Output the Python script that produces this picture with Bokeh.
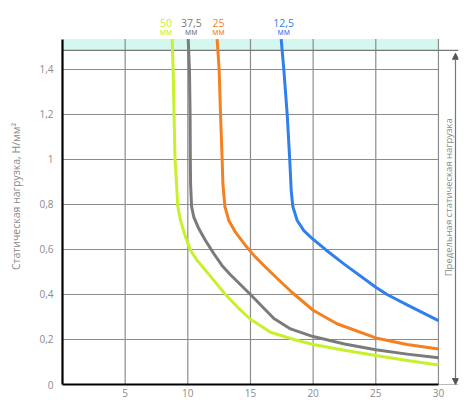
import math
from bokeh.plotting import figure
from bokeh.models import FixedTicker, Label, Arrow, NormalHead
from bokeh.embed import file_html
from bokeh.resources import INLINE
from bokeh.core.properties import value

# ---- data ----
x_ticks = [5, 10, 15, 20, 25, 30]
y_ticks = [0, 0.2, 0.4, 0.6, 0.8, 1.0, 1.2, 1.4]
y_tick_labels = ["0", "0,2", "0,4", "0,6", "0,8", "1", "1,2", "1,4"]

band_bottom = 1.485
band_top = 1.535

series_names = ["50", "37,5", "25", "12,5"]
unit_label = "мм"

x_50 = [8.75, 8.83, 8.9, 8.98, 9.1, 9.2, 9.42, 9.82, 10.22, 10.75, 11.6, 13.0, 14.0, 15.0, 16.6, 18.46, 20.0, 22.5, 25.0, 27.5, 30.0]
y_50 = [1.535, 1.4, 1.2, 1.0, 0.892, 0.791, 0.729, 0.655, 0.596, 0.551, 0.495, 0.4, 0.342, 0.29, 0.232, 0.2, 0.178, 0.152, 0.129, 0.107, 0.087]

x_375 = [10.03, 10.13, 10.18, 10.2, 10.22, 10.3, 10.48, 10.88, 11.41, 12.08, 12.74, 13.4, 15.0, 16.87, 18.2, 20.0, 22.5, 25.0, 27.5, 30.0]
y_375 = [1.535, 1.4, 1.2, 1.0, 0.892, 0.791, 0.744, 0.692, 0.64, 0.581, 0.528, 0.488, 0.4, 0.293, 0.247, 0.213, 0.18, 0.154, 0.135, 0.119]

x_25 = [12.34, 12.5, 12.61, 12.74, 12.8, 12.96, 13.27, 13.8, 14.6, 15.4, 16.07, 16.6, 18.3, 20.0, 21.9, 25.0, 27.5, 30.0]
y_25 = [1.535, 1.4, 1.2, 1.0, 0.892, 0.791, 0.729, 0.677, 0.618, 0.566, 0.529, 0.5, 0.41, 0.33, 0.27, 0.207, 0.178, 0.158]

x_125 = [17.45, 17.66, 17.93, 18.14, 18.25, 18.38, 18.73, 19.26, 19.87, 21.0, 22.45, 25.0, 25.9, 27.5, 30.0]
y_125 = [1.535, 1.4, 1.2, 0.991, 0.862, 0.791, 0.729, 0.684, 0.652, 0.599, 0.536, 0.432, 0.4, 0.354, 0.284]

# ---- styling ----
colors = ["#c8f02c", "#7b7b7b", "#f5801f", "#2f80ed"]
label_dx = [-0.5, 0.25, 0.1, 0.2]
grid_color = "#8c8c8c"
text_gray = "#8a8a8a"
FONT = "Open Sans"

x_end = 31.6
y_end = 1.671
p = figure(width=470, height=400, x_range=(0, x_end), y_range=(0, y_end),
           output_backend="svg", toolbar_location=None,
           min_border_left=62, min_border_right=12, min_border_top=8, min_border_bottom=16)
p.outline_line_color = None
p.background_fill_color = "white"
p.border_fill_color = "white"

# band at top
p.quad(left=[0], right=[max(x_ticks)], bottom=[band_bottom], top=[band_top],
       fill_color="#d4f7ef", line_color=None)

# grid lines drawn within the plot area
p.xgrid.visible = False
p.ygrid.visible = False
p.segment(x0=x_ticks, x1=x_ticks, y0=[0] * len(x_ticks), y1=[band_top] * len(x_ticks),
          line_color=grid_color, line_width=1.2)
p.segment(x0=[0] * (len(y_ticks) - 1), x1=[max(x_ticks)] * (len(y_ticks) - 1),
          y0=y_ticks[1:], y1=y_ticks[1:], line_color=grid_color, line_width=1.2)
# band bottom line and bottom extension
p.segment(x0=[0], x1=[x_end], y0=[band_bottom], y1=[band_bottom], line_color="#777777", line_width=1.2)
p.segment(x0=[max(x_ticks)], x1=[x_end], y0=[0], y1=[0], line_color="#777777", line_width=1.2)

# axes
p.xaxis.ticker = FixedTicker(ticks=x_ticks)
p.yaxis.ticker = FixedTicker(ticks=y_ticks)
p.yaxis.major_label_overrides = {t: l for t, l in zip(y_ticks, y_tick_labels)}
for ax in (p.xaxis, p.yaxis):
    ax.axis_line_color = "black"
    ax.axis_line_width = 2.2
    ax.major_tick_line_color = None
    ax.minor_tick_line_color = None
    ax.major_tick_out = 0
    ax.major_tick_in = 0
    ax.minor_tick_out = 0
    ax.major_label_text_color = text_gray
    ax.major_label_text_font = FONT
    ax.major_label_text_font_size = "10px"
p.xaxis.bounds = (0, max(x_ticks))
p.yaxis.bounds = (0, band_top)
p.xaxis.major_label_standoff = 4
p.yaxis.major_label_standoff = 9
p.yaxis.axis_label = "Статическая нагрузка, Н/мм²"
p.yaxis.axis_label_text_color = text_gray
p.yaxis.axis_label_text_font = FONT
p.yaxis.axis_label_text_font_size = "10.5px"
p.yaxis.axis_label_text_font_style = "normal"
p.yaxis.axis_label_standoff = 13

# curves
for xs, ys, c in zip([x_50, x_375, x_25, x_125], [y_50, y_375, y_25, y_125], colors):
    p.line(xs, ys, line_color=c, line_width=3, line_join="round")

# top labels
lx = [xs[0] + dx for xs, dx in zip([x_50, x_375, x_25, x_125], label_dx)]
p.text(x=lx, y=[1.607] * 4, text=series_names, text_color=colors, text_align="center",
       text_baseline="middle", text_font=value(FONT), text_font_size="10.5px")
p.text(x=lx, y=[1.569] * 4, text=[unit_label] * 4, text_color=colors, text_align="center",
       text_baseline="middle", text_font=value(FONT), text_font_size="8.5px")

# right annotation
p.add_layout(Label(x=30.8, y=0.832, text="Предельная статическая нагрузка", angle=math.pi / 2,
                   text_align="center", text_baseline="middle", text_color=text_gray,
                   text_font=FONT, text_font_size="9.5px"))
p.add_layout(Arrow(x_start=31.36, y_start=0, x_end=31.36, y_end=1.472,
                   line_color="#777777", line_width=1.2,
                   start=NormalHead(size=6, fill_color="#555555", line_color="#555555"),
                   end=NormalHead(size=6, fill_color="#555555", line_color="#555555")))

open("out.html", "w").write(file_html(p, INLINE))
